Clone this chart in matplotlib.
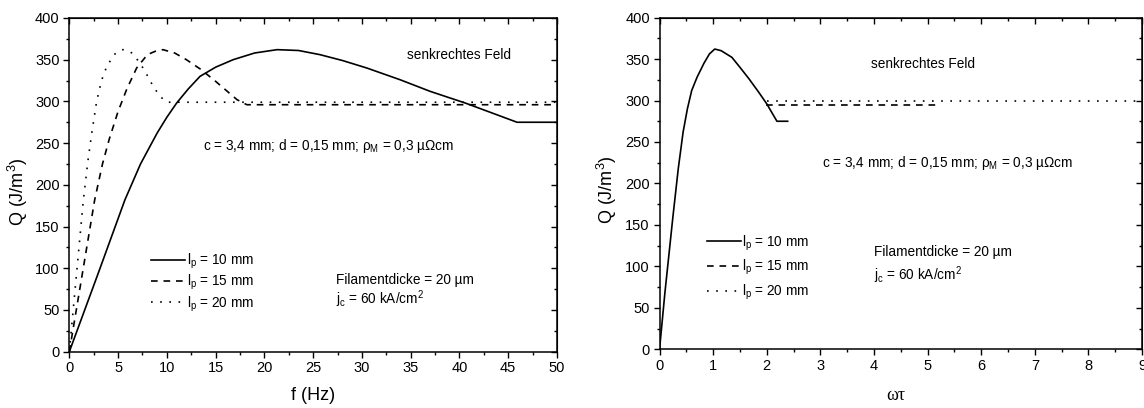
import numpy as np
import matplotlib
matplotlib.use("Agg")
import matplotlib.pyplot as plt
from matplotlib.ticker import MultipleLocator

plt.rcParams['font.family'] = ['Liberation Sans', 'DejaVu Sans']
plt.rcParams['mathtext.default'] = 'regular'

# --- left panel: Q over f (Hz), one curve per l_p ---
f_10 = [0, 2.9, 5.7, 7.3, 9.0, 10.0, 11.0, 12.2, 13.4, 15.0, 16.8, 19.0, 21.3, 23.5,
        25.7, 28.0, 30.5, 33.9, 37.0, 40.6, 45.9, 50]
q_10 = [0, 92, 182, 225, 262, 281, 298, 315, 330, 341, 350, 358, 362, 361,
        356, 349, 340, 326, 312, 298, 275, 275]

f_15 = [0, 1.3, 2.6, 3.4, 4.1, 5.0, 5.9, 6.9, 8.0, 8.8, 9.6, 10.8, 12.0, 13.4,
        14.8, 16.0, 17.2, 18.2, 50]
q_15 = [0, 91, 182, 225, 255, 288, 315, 340, 356, 360, 362, 358, 350, 339,
        326, 314, 302, 296, 296]

f_20 = [0, 0.72, 1.44, 1.9, 2.3, 2.8, 3.3, 3.84, 4.6, 5.0, 5.5, 6.0, 6.4, 7.25,
        7.9, 8.6, 9.3, 10.0, 50]
q_20 = [0, 91, 182, 228, 262, 300, 325, 342, 356, 360, 362, 361, 358, 346,
        333, 318, 306, 299, 299]

# --- right panel: Q over omega*tau ---
wt_10 = [0, 0.1, 0.25, 0.35, 0.44, 0.52, 0.6, 0.7, 0.83, 0.93, 1.03, 1.15, 1.35,
         1.5, 1.67, 1.85, 2.0, 2.19, 2.39]
qw_10 = [0, 68, 160, 218, 262, 290, 312, 328, 345, 356, 362, 360, 352,
         340, 326, 310, 296, 275, 275]

wt_15 = [1.98, 5.2]
qw_15 = [295, 295]

wt_20 = [2.0, 9.0]
qw_20 = [299, 299]

labels = ['l$_p$ = 10 mm', 'l$_p$ = 15 mm', 'l$_p$ = 20 mm']

dashed = (0, (4, 3.5))
dotted = (0, (1, 4.5))
lw = 1.2
txt = 9.8

fig = plt.figure(figsize=(11.44, 4.08), dpi=100)
ax1 = fig.add_axes([0.0606, 0.138, 0.4263, 0.818])
ax2 = fig.add_axes([0.5765, 0.1434, 0.4218, 0.8137])


def style_axes(ax, xmax, xmajor, xminor, xlabel, xlabel_font):
    ax.set_xlim(0, xmax)
    ax.set_ylim(0, 400)
    ax.xaxis.set_major_locator(MultipleLocator(xmajor))
    ax.xaxis.set_minor_locator(MultipleLocator(xminor))
    ax.yaxis.set_major_locator(MultipleLocator(50))
    ax.yaxis.set_minor_locator(MultipleLocator(25))
    ax.tick_params(which='both', direction='out', labelsize=10.5, pad=2.5, width=1)
    ax.tick_params(which='major', length=4.5)
    ax.tick_params(which='minor', length=2.5)
    for s in ax.spines.values():
        s.set_linewidth(1.1)

    # top / right ticks point inwards
    top = ax.secondary_xaxis('top')
    top.xaxis.set_major_locator(MultipleLocator(xmajor))
    top.xaxis.set_minor_locator(MultipleLocator(xminor))
    top.tick_params(which='both', direction='in', labeltop=False, width=1)
    top.tick_params(which='major', length=4.5)
    top.tick_params(which='minor', length=2.5)
    right = ax.secondary_yaxis('right')
    right.yaxis.set_major_locator(MultipleLocator(50))
    right.yaxis.set_minor_locator(MultipleLocator(25))
    right.tick_params(which='both', direction='in', labelright=False, width=1)
    right.tick_params(which='major', length=4.5)
    right.tick_params(which='minor', length=2.5)

    ax.set_xlabel(xlabel, fontsize=13, family=xlabel_font)
    ax.xaxis.label.set_verticalalignment('center')
    ax.set_ylabel('Q (J/m$^3$)', fontsize=13)
    ax.yaxis.label.set_verticalalignment('center')


# left panel
h1, = ax1.plot(f_10, q_10, color='black', lw=lw, label=labels[0])
h2, = ax1.plot(f_15, q_15, color='black', lw=lw, ls=dashed, label=labels[1])
h3, = ax1.plot(f_20, q_20, color='black', lw=lw, ls=dotted, label=labels[2])
style_axes(ax1, 50, 5, 2.5, 'f (Hz)', ['Liberation Sans', 'DejaVu Sans'])
ax1.xaxis.set_label_coords(0.499, -0.13)
ax1.yaxis.set_label_coords(-0.105, 0.48)

ax1.text(39.9, 356, 'senkrechtes Feld', fontsize=txt, ha='center', va='center')
ax1.text(13.7, 247, 'c = 3,4 mm; d = 0,15 mm; ρ$_M$ = 0,3 µΩcm', fontsize=txt, va='center')
ax1.text(27.3, 86, 'Filamentdicke = 20 µm', fontsize=txt, va='center')
ax1.text(27.3, 63, 'j$_c$ = 60 kA/cm$^2$', fontsize=txt, va='center')
ax1.legend(handles=[h1, h2, h3], loc='upper left', bbox_to_anchor=(0.168, 0.30),
           frameon=False, fontsize=txt, handlelength=2.5, handletextpad=0.1,
           labelspacing=0.15, borderpad=0, borderaxespad=0)

# right panel
g1, = ax2.plot(wt_10, qw_10, color='black', lw=lw, label=labels[0])
g2, = ax2.plot(wt_15, qw_15, color='black', lw=lw, ls=dashed, label=labels[1])
g3, = ax2.plot(wt_20, qw_20, color='black', lw=lw, ls=dotted, label=labels[2])
style_axes(ax2, 9, 1, 0.5, 'ωτ', ['Liberation Serif', 'DejaVu Serif'])
ax2.xaxis.set_label_coords(0.49, -0.14)
ax2.yaxis.set_label_coords(-0.109, 0.48)

ax2.text(4.91, 344, 'senkrechtes Feld', fontsize=txt, ha='center', va='center')
ax2.text(3.03, 225, 'c = 3,4 mm; d = 0,15 mm; ρ$_M$ = 0,3 µΩcm', fontsize=txt, va='center')
ax2.text(4.0, 118, 'Filamentdicke = 20 µm', fontsize=txt, va='center')
ax2.text(4.0, 89, 'j$_c$ = 60 kA/cm$^2$', fontsize=txt, va='center')
ax2.legend(handles=[g1, g2, g3], loc='upper left', bbox_to_anchor=(0.098, 0.35),
           frameon=False, fontsize=txt, handlelength=2.5, handletextpad=0.1,
           labelspacing=0.4, borderpad=0, borderaxespad=0)

fig.savefig('out.png', dpi=100)
